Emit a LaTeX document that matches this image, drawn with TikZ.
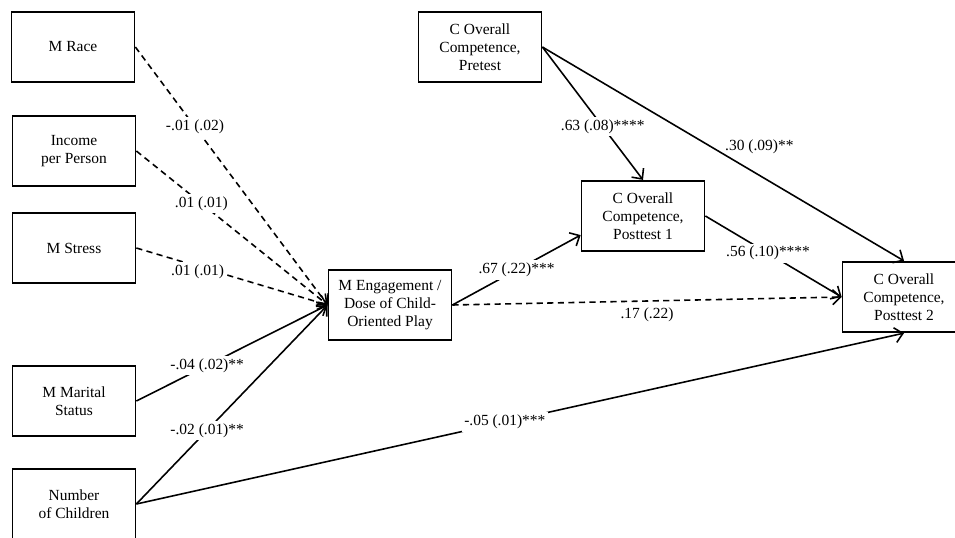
\documentclass[tikz,border=0pt]{standalone}
\usepackage{fontspec}
\setmainfont{Liberation Serif}
\usetikzlibrary{arrows.meta}

\begin{document}
\begin{tikzpicture}[x=0.02cm,y=-0.02cm,
  box/.style={draw,line width=1pt,minimum width=2.46cm,minimum height=1.41cm,align=center,
    font=\fontsize{8.8}{10.2}\selectfont},
  lab/.style={fill=white,inner sep=1.5pt,font=\fontsize{8.8}{10.2}\selectfont},
  arr/.style={line width=0.9pt,-{Straight Barb[length=4.5pt,width=8.5pt]}},
  dsh/.style={arr,dash pattern=on 3.5pt off 2.5pt}]
\useasboundingbox (0,0) rectangle (955,537);

% mother variables
\node[box] (race) at (73,47) {M Race};
\node[box] (income) at (74,151) {Income\\per Person};
\node[box] (stress) at (74,248) {M Stress};
\node[box] (marital) at (74,401) {M Marital\\Status};
\node[box] (children) at (74,504) {Number\\of Children};

% mediator and child outcomes
\node[box] (engage) at (390,305) {M Engagement /\\Dose of Child-\\Oriented Play};
\node[box] (pre) at (480,47) {C Overall\\Competence,\\Pretest};
\node[box] (post1) at (643,216) {C Overall\\Competence,\\Posttest 1};
\node[box] (post2) at (904,297) {C Overall\\Competence,\\Posttest 2};

\draw[dsh] (race.east) -- node[lab,pos=0.31] {-.01 (.02)} (engage.west);
\draw[dsh] (income.east) -- node[lab,pos=0.34] {.01 (.01)} (engage.west);
\draw[dsh] (stress.east) -- node[lab,pos=0.32,yshift=-3] {.01 (.01)} (engage.west);
\draw[arr] (marital.east) -- node[lab,pos=0.37] {-.04 (.02)**} (engage.west);
\draw[arr] (children.east) -- node[lab,pos=0.37] {-.02 (.01)**} (engage.west);

\draw[arr] (engage.east) -- node[lab,pos=0.5] {.67 (.22)***} (post1.197);
\draw[dsh] (engage.east) -- node[below,pos=0.5,font=\fontsize{8.8}{10.2}\selectfont] {.17 (.22)} (post2.west);
\draw[arr] (pre.east) -- node[lab,pos=0.6] {.63 (.08)****} (post1.north);
\draw[arr] (pre.east) -- node[above=3mm,pos=0.6,font=\fontsize{8.8}{10.2}\selectfont] {.30 (.09)**} (post2.north);
\draw[arr] (post1.east) -- node[lab,pos=0.46] {.56 (.10)****} (post2.west);
\draw[arr] (children.east) -- node[lab,pos=0.48] {-.05 (.01)***} (post2.south);
\end{tikzpicture}
\end{document}
